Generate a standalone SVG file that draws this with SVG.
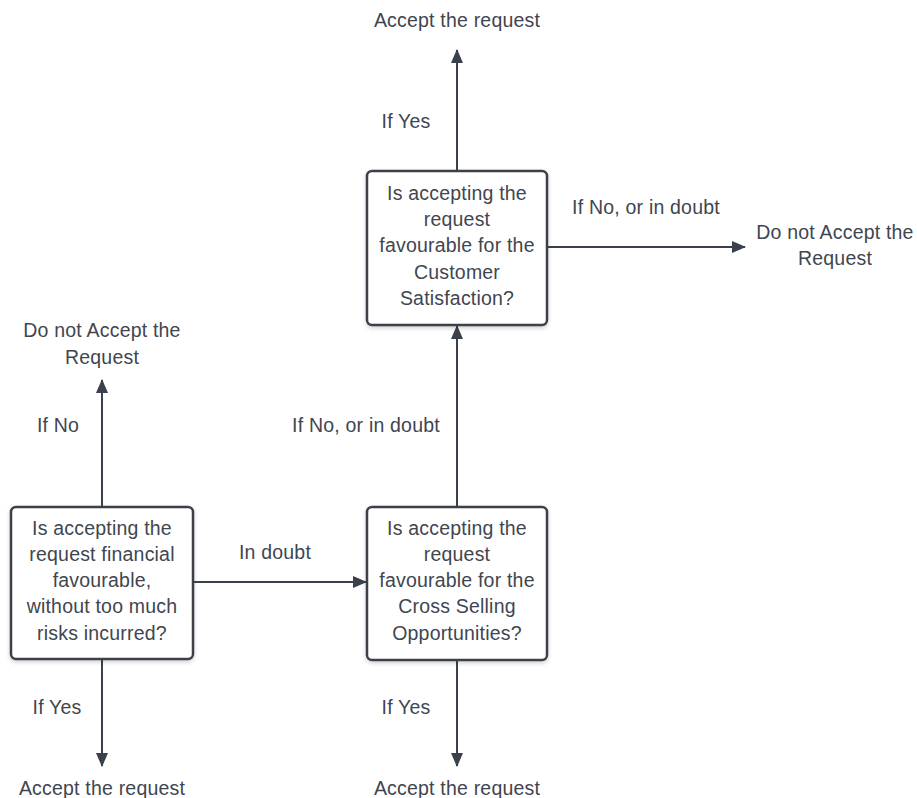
<svg xmlns="http://www.w3.org/2000/svg" width="917" height="798" viewBox="0 0 917 798">
<style>
text{font-family:"Liberation Sans",Arial,sans-serif;font-size:19.5px;letter-spacing:0.2px;fill:#3f4650;text-anchor:middle}
.box{fill:#fff;stroke:#3a414a;stroke-width:2.5}
.ln{stroke:#3a414a;stroke-width:2;fill:none;marker-end:url(#ah)}
</style>
<defs>
<marker id="ah" markerWidth="14" markerHeight="12" refX="13" refY="6" orient="auto" markerUnits="userSpaceOnUse">
<path d="M0,0 L14,6 L0,12 Z" fill="#3a414a"/>
</marker>
<filter id="sh" x="-10%" y="-10%" width="130%" height="130%">
<feDropShadow dx="0" dy="2" stdDeviation="2" flood-color="#000" flood-opacity="0.18"/>
</filter>
</defs>
<g id="connectors">
<line class="ln" x1="457" y1="171" x2="457" y2="50"/>
<line class="ln" x1="547" y1="247" x2="745" y2="247"/>
<line class="ln" x1="457" y1="507" x2="457" y2="326"/>
<line class="ln" x1="457" y1="660" x2="457" y2="766"/>
<line class="ln" x1="102" y1="507" x2="102" y2="380"/>
<line class="ln" x1="102" y1="659" x2="102" y2="766"/>
<line class="ln" x1="193" y1="582" x2="366" y2="582"/>
<text x="406" y="128">If Yes</text>
<text x="646" y="214">If No, or in doubt</text>
<text x="366" y="432">If No, or in doubt</text>
<text x="406" y="714">If Yes</text>
<text x="58" y="432">If No</text>
<text x="57" y="714">If Yes</text>
<text x="275" y="559">In doubt</text>
</g>
<g id="end-top"><text x="457" y="27">Accept the request</text></g>
<g id="end-right"><text x="835" y="239">Do not Accept the</text><text x="835" y="265">Request</text></g>
<g id="end-left-top"><text x="102" y="337">Do not Accept the</text><text x="102" y="364">Request</text></g>
<g id="end-left-bottom"><text x="102" y="795">Accept the request</text></g>
<g id="end-mid-bottom"><text x="457" y="795">Accept the request</text></g>
<g id="q-customer">
<rect class="box" x="367" y="171" width="180" height="154" rx="5" filter="url(#sh)"/>
<text x="457" y="200">Is accepting the</text>
<text x="457" y="226">request</text>
<text x="457" y="252">favourable for the</text>
<text x="457" y="279">Customer</text>
<text x="457" y="305">Satisfaction?</text>
</g>
<g id="q-financial">
<rect class="box" x="11" y="507" width="182" height="152" rx="5" filter="url(#sh)"/>
<text x="102" y="535">Is accepting the</text>
<text x="102" y="561">request financial</text>
<text x="102" y="587">favourable,</text>
<text x="102" y="613">without too much</text>
<text x="102" y="640">risks incurred?</text>
</g>
<g id="q-cross">
<rect class="box" x="367" y="507" width="180" height="153" rx="5" filter="url(#sh)"/>
<text x="457" y="535">Is accepting the</text>
<text x="457" y="561">request</text>
<text x="457" y="587">favourable for the</text>
<text x="457" y="613">Cross Selling</text>
<text x="457" y="640">Opportunities?</text>
</g>
</svg>
